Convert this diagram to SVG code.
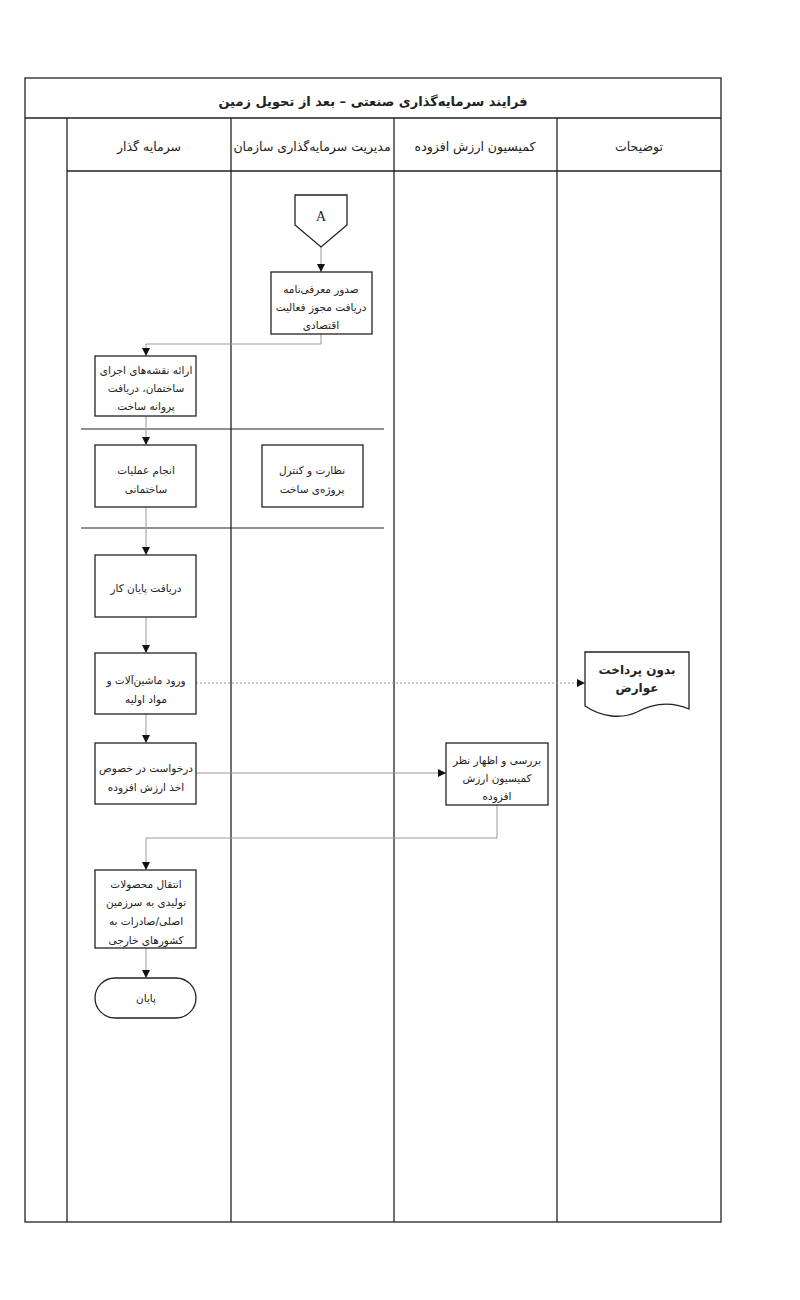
<svg xmlns="http://www.w3.org/2000/svg" width="800" height="1300" viewBox="0 0 800 1300">
<defs>
<style>
.frame{fill:none;stroke:#222;stroke-width:1.3}
.box{fill:#fff;stroke:#222;stroke-width:1.3}
.sep{stroke:#222;stroke-width:1.2}
.con{fill:none;stroke:#999;stroke-width:1}
.dash{fill:none;stroke:#999;stroke-width:1;stroke-dasharray:2 2}
text{font-family:"DejaVu Sans",sans-serif;font-size:10.5px;fill:#222;text-anchor:middle;direction:rtl}
.t{font-size:13px;font-weight:bold}
.h{font-size:12.5px}
.b{font-weight:bold;font-size:12px}
.a{font-family:"Liberation Serif",serif;font-size:14px;direction:ltr}
</style>
<marker id="ah" viewBox="0 0 10 10" refX="10" refY="5" markerWidth="8" markerHeight="8" orient="auto" markerUnits="userSpaceOnUse">
<path d="M0,0 L10,5 L0,10 z" fill="#111"/>
</marker>
</defs>
<rect width="800" height="1300" fill="#fff"/>
<g id="frame">
<rect class="frame" x="25" y="78" width="696" height="1144"/>
<line class="frame" x1="25" y1="118" x2="721" y2="118"/>
<line class="frame" x1="67" y1="171" x2="721" y2="171"/>
<line class="frame" x1="67" y1="118" x2="67" y2="1222"/>
<line class="frame" x1="231" y1="118" x2="231" y2="1222"/>
<line class="frame" x1="394" y1="118" x2="394" y2="1222"/>
<line class="frame" x1="557" y1="118" x2="557" y2="1222"/>
<text class="t" x="373" y="106">فرایند سرمایه‌گذاری صنعتی – بعد از تحویل زمین</text>
<text class="h" x="149" y="151">سرمایه گذار</text>
<text class="h" x="312" y="151">مدیریت سرمایه‌گذاری سازمان</text>
<text class="h" x="475" y="151">کمیسیون ارزش افزوده</text>
<text class="h" x="639" y="151">توضیحات</text>
<line class="sep" x1="81" y1="429" x2="384" y2="429"/>
<line class="sep" x1="81" y1="528" x2="384" y2="528"/>
</g>
<g id="connectors">
<line class="con" x1="321" y1="247" x2="321" y2="272" marker-end="url(#ah)"/>
<polyline class="con" points="321,334 321,344 146,344 146,356" marker-end="url(#ah)"/>
<line class="con" x1="146" y1="416" x2="146" y2="445" marker-end="url(#ah)"/>
<line class="con" x1="146" y1="507" x2="146" y2="555" marker-end="url(#ah)"/>
<line class="con" x1="146" y1="617" x2="146" y2="653" marker-end="url(#ah)"/>
<line class="dash" x1="196" y1="683" x2="585" y2="683" marker-end="url(#ah)"/>
<line class="con" x1="146" y1="714" x2="146" y2="743" marker-end="url(#ah)"/>
<line class="con" x1="196" y1="773" x2="446" y2="773" marker-end="url(#ah)"/>
<polyline class="con" points="497,805 497,838 146,838 146,870" marker-end="url(#ah)"/>
<line class="con" x1="146" y1="948" x2="146" y2="978" marker-end="url(#ah)"/>
</g>
<g id="nodeA">
<path class="box" d="M295,195 H347 V225 L321,247 L295,225 Z"/>
<text class="a" x="321" y="221">A</text>
</g>
<g id="n1">
<rect class="box" x="271" y="272" width="101" height="62"/>
<text x="321" y="293">صدور معرفی‌نامه</text>
<text x="321" y="311">دریافت مجوز فعالیت</text>
<text x="321" y="329">اقتصادی</text>
</g>
<g id="n2">
<rect class="box" x="95" y="356" width="101" height="60"/>
<text x="146" y="374">ارائه نقشه‌های اجرای</text>
<text x="146" y="392">ساختمان، دریافت</text>
<text x="146" y="410">پروانه ساخت</text>
</g>
<g id="n3">
<rect class="box" x="95" y="445" width="101" height="62"/>
<text x="146" y="474">انجام عملیات</text>
<text x="146" y="493">ساختمانی</text>
</g>
<g id="n4">
<rect class="box" x="262" y="445" width="101" height="62"/>
<text x="312" y="474">نظارت و کنترل</text>
<text x="312" y="493">پروژه‌ی ساخت</text>
</g>
<g id="n5">
<rect class="box" x="95" y="555" width="101" height="62"/>
<text x="146" y="592">دریافت پایان کار</text>
</g>
<g id="n6">
<rect class="box" x="95" y="653" width="101" height="61"/>
<text x="146" y="684">ورود ماشین‌آلات و</text>
<text x="146" y="703">مواد اولیه</text>
</g>
<g id="n7">
<path class="box" d="M585,652 H689 V709 C668,700 650,705 637,712 C620,720 600,716 585,706 Z"/>
<text class="b" x="637" y="674">بدون پرداخت</text>
<text class="b" x="637" y="692">عوارض</text>
</g>
<g id="n8">
<rect class="box" x="95" y="743" width="101" height="61"/>
<text x="146" y="772">درخواست در خصوص</text>
<text x="146" y="791">اخذ ارزش افزوده</text>
</g>
<g id="n9">
<rect class="box" x="446" y="743" width="102" height="62"/>
<text x="497" y="764">بررسی و اظهار نظر</text>
<text x="497" y="782">کمیسیون ارزش</text>
<text x="497" y="800">افزوده</text>
</g>
<g id="n10">
<rect class="box" x="95" y="870" width="101" height="78"/>
<text x="146" y="888">انتقال محصولات</text>
<text x="146" y="906">تولیدی به سرزمین</text>
<text x="146" y="925">اصلی/صادرات به</text>
<text x="146" y="944">کشورهای خارجی</text>
</g>
<g id="n11">
<rect class="box" x="95" y="978" width="101" height="40" rx="20" ry="20"/>
<text x="146" y="1002">پایان</text>
</g>
</svg>
